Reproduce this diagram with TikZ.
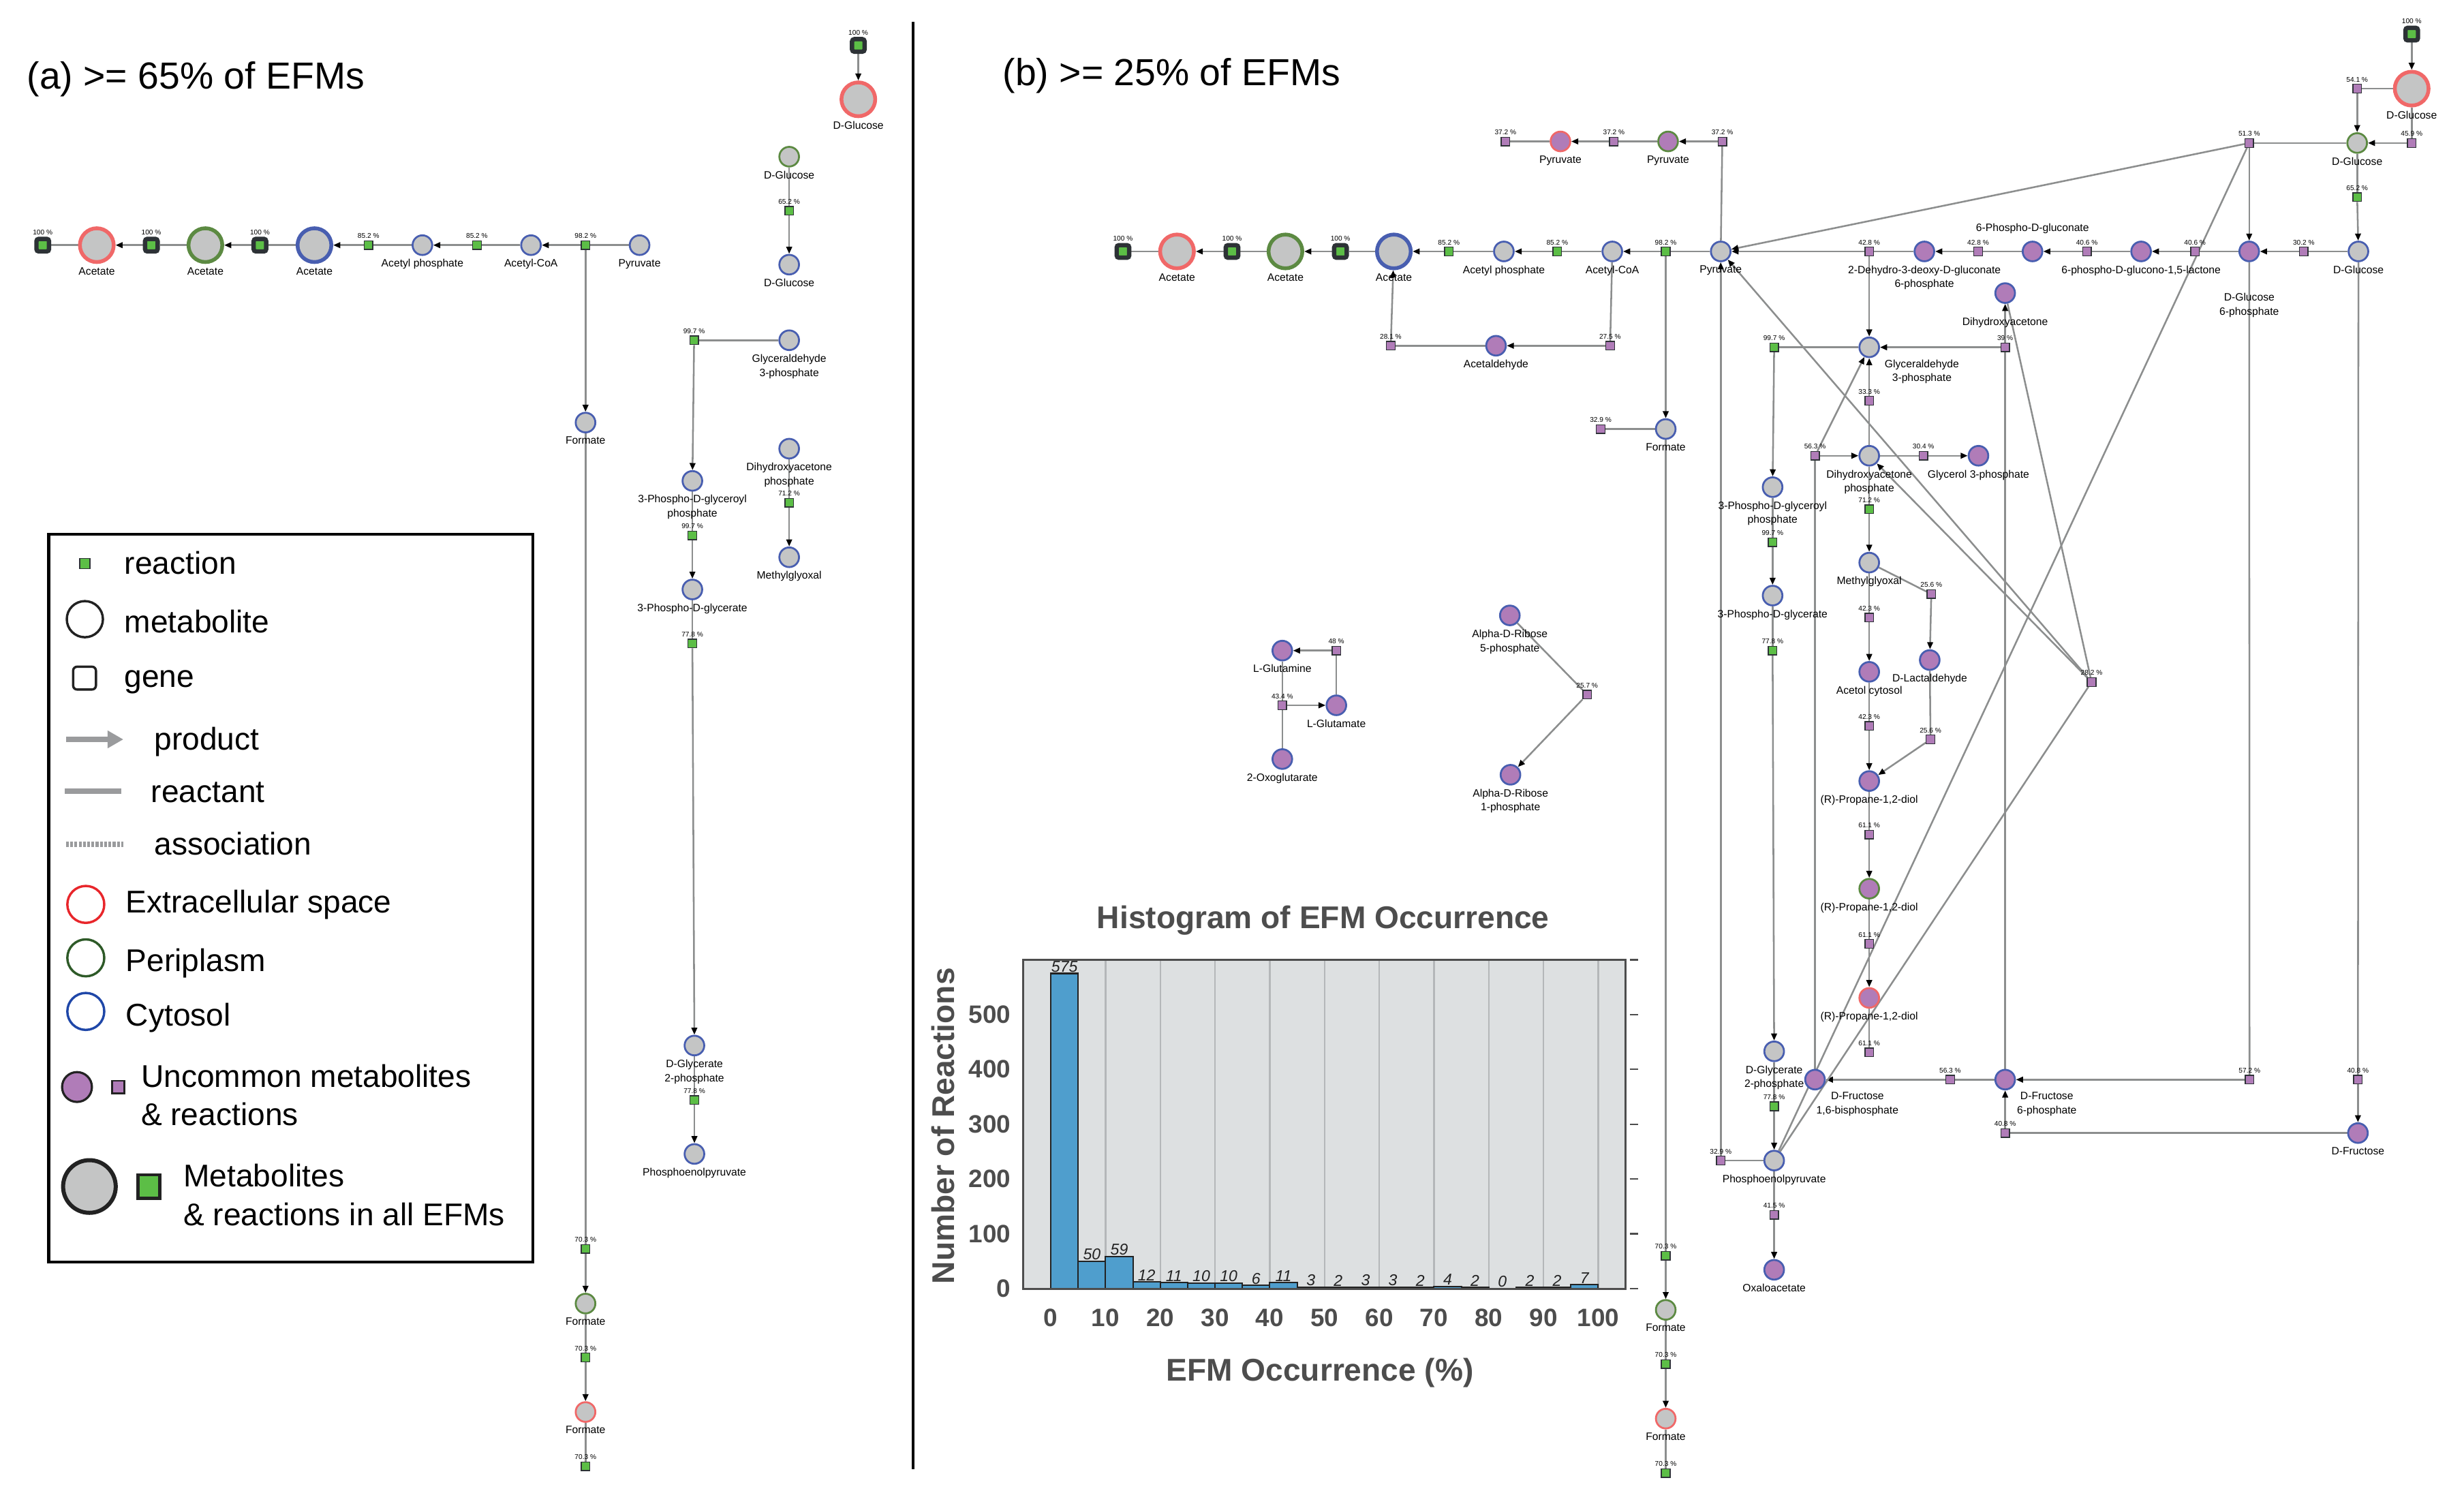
\documentclass[tikz,border=0pt]{standalone}
\usepackage{fontspec}
\setmainfont{Liberation Sans}
\usepackage{xcolor}
\usepackage{tikz}
\usetikzlibrary{arrows.meta,backgrounds}

\definecolor{metgray}{HTML}{C4C5C5}
\definecolor{rarepurple}{HTML}{B07CB8}
\definecolor{cytblue}{HTML}{485EB0}
\definecolor{perigreen}{HTML}{5C8A42}
\definecolor{extrared}{HTML}{F06868}
\definecolor{rxngreen}{HTML}{5CBE46}
\definecolor{rxndark}{HTML}{2D3236}
\definecolor{edgegray}{HTML}{8C8E8E}
\definecolor{legred}{HTML}{E8262B}
\definecolor{leggreen}{HTML}{2E5A28}
\definecolor{legblue}{HTML}{1F47A8}
\definecolor{leggray}{HTML}{9A9B9D}
\definecolor{legdark}{HTML}{222222}
\definecolor{barblue}{HTML}{4F9ECD}
\definecolor{plotbg}{HTML}{DDE0E1}
\definecolor{gridgray}{HTML}{B4B7B9}
\definecolor{axisgray}{HTML}{4D4D4D}

\begin{document}
\begin{tikzpicture}[
    x=1pt, y=-1pt,
    met/.style={circle, draw, fill=metgray, line width=1.2pt, minimum size=12.5pt, inner sep=0pt},
    bigmet/.style={met, line width=2.4pt, minimum size=21.5pt},
    cyto/.style={draw=cytblue},
    peri/.style={draw=perigreen},
    extra/.style={draw=extrared},
    rare/.style={fill=rarepurple},
    rxn/.style={rectangle, draw=rxndark, fill=rxngreen, line width=0.6pt, minimum size=5.5pt, inner sep=0pt},
    urxn/.style={rxn, fill=rarepurple},
    bigrxn/.style={rxn, rounded corners=1.5pt, line width=2.8pt, minimum size=8pt},
    lbl/.style={font=\fontsize{6.8}{9}\selectfont, align=center, inner sep=0.5pt, label distance=1.5pt},
    pct/.style={font=\fontsize{4.4}{5}\selectfont, inner sep=0.5pt, label distance=0.5pt},
    rl/.style={draw=edgegray, line width=1.1pt},
    prod/.style={rl, -{Triangle[length=4.5pt, width=3.6pt, color=black]}},
    legtxt/.style={anchor=base west, font=\fontsize{20}{24}\selectfont, inner sep=0pt},
    paneltitle/.style={anchor=base west, font=\fontsize{24}{27}\selectfont, inner sep=0pt},
    barbox/.style={draw=legdark, fill=barblue, line width=0.9pt},
    barlbl/.style={anchor=south, font=\fontsize{10}{12}\selectfont\itshape, text=legdark, inner sep=0.6pt},
    ticklbl/.style={font=\fontsize{16}{18}\selectfont\bfseries, text=axisgray},
    axislbl/.style={font=\fontsize{20}{24}\selectfont\bfseries, text=axisgray}
]
\useasboundingbox (0,0) rectangle (1568,958);

% Titles and divider
\node[paneltitle] (title-a) at (17,56.4) {(a) >= 65\% of EFMs};
\node[paneltitle] (title-b) at (638,54.5) {(b) >= 25\% of EFMs};
\draw[line width=2pt] (581,14) -- (581,935);

% Panel (a): acetate row
\node[bigrxn, label={[pct]above:100 \%}] (a-rex) at (27.2,156) {};
\node[bigmet, extra, label={[lbl]below:Acetate}] (a-ace-e) at (61.6,156) {};
\node[bigrxn, label={[pct]above:100 \%}] (a-rtp) at (96.3,156) {};
\node[bigmet, peri, label={[lbl]below:Acetate}] (a-ace-p) at (130.7,156) {};
\node[bigrxn, label={[pct]above:100 \%}] (a-rtc) at (165.4,156) {};
\node[bigmet, cyto, label={[lbl]below:Acetate}] (a-ace-c) at (200.1,156) {};
\node[rxn, label={[pct]above:85.2 \%}] (a-rack) at (234.5,156) {};
\node[met, cyto, label={[lbl]below:Acetyl phosphate}] (a-actp) at (268.8,156) {};
\node[rxn, label={[pct]above:85.2 \%}] (a-rpta) at (303.5,156) {};
\node[met, cyto, label={[lbl]below:Acetyl-CoA}] (a-accoa) at (337.9,156) {};
\node[rxn, label={[pct]above:98.2 \%}] (a-rpfl) at (372.6,156) {};
\node[met, cyto, label={[lbl]below:Pyruvate}] (a-pyr) at (407,156) {};

% Panel (a): formate column
\node[met, cyto, label={[lbl]below:Formate}] (a-for-c) at (372.6,268.9) {};
\node[rxn, label={[pct]above:70.3 \%}] (a-rfor1) at (372.6,794.7) {};
\node[met, peri, label={[lbl]below:Formate}] (a-for-p) at (372.6,829.5) {};
\node[rxn, label={[pct]above:70.3 \%}] (a-rfor2) at (372.6,863.8) {};
\node[met, extra, label={[lbl]below:Formate}] (a-for-e) at (372.6,898.5) {};
\node[rxn, label={[pct]above:70.3 \%}] (a-rfor3) at (372.6,933) {};

% Panel (a): glucose and glycolysis
\node[bigrxn, label={[pct]above:100 \%}] (a-rglcex) at (546.2,28.9) {};
\node[bigmet, extra, label={[lbl]below:D-Glucose}] (a-glc-e) at (546.2,63.2) {};
\node[met, peri, label={[lbl]below:D-Glucose}] (a-glc-p) at (502.2,99.7) {};
\node[rxn, label={[pct]above:65.2 \%}] (a-rglcpts) at (502.2,134.1) {};
\node[met, cyto, label={[lbl]below:D-Glucose}] (a-glc-c) at (502.2,168.4) {};
\node[met, cyto, label={[lbl]below:{Glyceraldehyde\\3-phosphate}}] (a-gap) at (502.2,216.5) {};
\node[rxn, label={[pct]above:99.7 \%}] (a-rgapd) at (441.7,216.5) {};
\node[met, cyto, label={[lbl]below:{3-Phospho-D-glyceroyl\\phosphate}}] (a-13dpg) at (440.6,306) {};
\node[rxn, label={[pct]above:99.7 \%}] (a-rpgk) at (440.6,340.7) {};
\node[met, cyto, label={[lbl]below:3-Phospho-D-glycerate}] (a-3pg) at (440.6,375.1) {};
\node[rxn, label={[pct]above:77.8 \%}] (a-rpgm) at (440.6,409.5) {};
\node[met, cyto, label={[lbl]below:{D-Glycerate\\2-phosphate}}] (a-2pg) at (441.9,665.3) {};
\node[rxn, label={[pct]above:77.8 \%}] (a-reno) at (441.9,700) {};
\node[met, cyto, label={[lbl]below:Phosphoenolpyruvate}] (a-pep) at (441.9,734.3) {};
\node[met, cyto, label={[lbl]below:{Dihydroxyacetone\\phosphate}}] (a-dhap) at (502.2,285.5) {};
\node[rxn, label={[pct]above:71.2 \%}] (a-rmgs) at (502.2,319.9) {};
\node[met, cyto, label={[lbl]below:Methylglyoxal}] (a-mthgxl) at (502.2,354.6) {};

% Legend
\draw[line width=1.8pt] (31,340) rectangle (339,803);
\node[rxn, minimum size=6.5pt] (leg-rxn) at (54,358.5) {};
\node[legtxt] (leg-rxn-t) at (79,365.5) {reaction};
\node[circle, draw=legdark, line width=1.5pt, minimum size=23pt] (leg-met) at (54,394) {};
\node[legtxt] (leg-met-t) at (79,402.6) {metabolite};
\node[rectangle, rounded corners=2.5pt, draw=legdark, line width=1.5pt, minimum size=14.5pt] (leg-gene) at (53.8,431.5) {};
\node[legtxt] (leg-gene-t) at (79,437.5) {gene};
\coordinate (leg-p1) at (42,470.5);
\coordinate (leg-p2) at (78.5,470.5);
\draw[leggray, line width=3.5pt, -{Triangle[length=10pt, width=10.6pt]}] (leg-p1) -- (leg-p2);
\node[legtxt] (leg-prod-t) at (98,477.2) {product};
\coordinate (leg-r1) at (41.4,503.6);
\coordinate (leg-r2) at (77.4,503.6);
\draw[leggray, line width=3.5pt] (leg-r1) -- (leg-r2);
\node[legtxt] (leg-reac-t) at (96,510.6) {reactant};
\coordinate (leg-a1) at (42,537.3);
\coordinate (leg-a2) at (78.5,537.3);
\draw[leggray, line width=3.5pt, dash pattern=on 1.8pt off 0.9pt] (leg-a1) -- (leg-a2);
\node[legtxt] (leg-asso-t) at (98,544.1) {association};
\node[circle, draw=legred, line width=1.5pt, minimum size=23.5pt] (leg-ex) at (54.6,575.5) {};
\node[legtxt] (leg-ex-t) at (80,580.7) {Extracellular space};
\node[circle, draw=leggreen, line width=1.5pt, minimum size=23.5pt] (leg-pe) at (54.6,609.5) {};
\node[legtxt] (leg-pe-t) at (80,618.1) {Periplasm};
\node[circle, draw=legblue, line width=1.5pt, minimum size=23.5pt] (leg-cy) at (54.6,643.6) {};
\node[legtxt] (leg-cy-t) at (80,652.8) {Cytosol};
\node[circle, draw=legdark, fill=rarepurple, line width=1.4pt, minimum size=19pt] (leg-rmet) at (49,691.7) {};
\node[rectangle, draw=legdark, fill=rarepurple, line width=1.2pt, minimum size=8pt] (leg-rrxn) at (75.2,691.7) {};
\node[legtxt] (leg-rare-t1) at (89.6,691.7) {Uncommon metabolites};
\node[legtxt] (leg-rare-t2) at (89.6,716) {\& reactions};
\node[circle, draw=legdark, fill=metgray, line width=2.6pt, minimum size=33.5pt] (leg-cmet) at (56.9,755) {};
\node[rectangle, draw=legdark, fill=rxngreen, line width=2pt, minimum width=14pt, minimum height=15pt] (leg-crxn) at (94.7,755) {};
\node[legtxt] (leg-core-t1) at (116.6,755) {Metabolites};
\node[legtxt] (leg-core-t2) at (116.6,780) {\& reactions in all EFMs};

% Panel (b): acetate row
\node[bigrxn, label={[pct]above:100 \%}] (b-rex) at (714.6,160) {};
\node[bigmet, extra, label={[lbl]below:Acetate}] (b-ace-e) at (749,160) {};
\node[bigrxn, label={[pct]above:100 \%}] (b-rtp) at (784,160) {};
\node[bigmet, peri, label={[lbl]below:Acetate}] (b-ace-p) at (818,160) {};
\node[bigrxn, label={[pct]above:100 \%}] (b-rtc) at (853,160) {};
\node[bigmet, cyto, label={[lbl]below:Acetate}] (b-ace-c) at (887,160) {};
\node[rxn, label={[pct]above:85.2 \%}] (b-rack) at (922,160) {};
\node[met, cyto, label={[lbl]below:Acetyl phosphate}] (b-actp) at (957,160) {};
\node[rxn, label={[pct]above:85.2 \%}] (b-rpta) at (991,160) {};
\node[met, cyto, label={[lbl]below:Acetyl-CoA}] (b-accoa) at (1026,160) {};
\node[rxn, label={[pct]above:98.2 \%}] (b-rpfl) at (1060,160) {};
\node[met, cyto, label={[lbl]below:Pyruvate}] (b-pyr) at (1095,160) {};

% Panel (b): Entner-Doudoroff row
\node[urxn, label={[pct]above:42.8 \%}] (b-redd) at (1189.5,160) {};
\node[met, cyto, rare, label={[lbl]below:{2-Dehydro-3-deoxy-D-gluconate\\6-phosphate}}] (b-kdpg) at (1224.6,160) {};
\node[urxn, label={[pct]above:42.8 \%}] (b-regd) at (1258.8,160) {};
\node[met, cyto, rare, label={[lbl, label distance=4pt]above:6-Phospho-D-gluconate}] (b-6pg) at (1293.4,160) {};
\node[urxn, label={[pct]above:40.6 \%}] (b-rpgl) at (1328,160) {};
\node[met, cyto, rare, label={[lbl]below:{6-phospho-D-glucono-1,5-lactone}}] (b-6pgl) at (1362.5,160) {};
\node[urxn, label={[pct]above:40.6 \%}] (b-rg6pdh) at (1396.8,160) {};
\node[met, cyto, rare, label={[lbl, label distance=19pt]below:{D-Glucose\\6-phosphate}}] (b-g6p) at (1431.3,160) {};
\node[urxn, label={[pct]above:30.2 \%}] (b-rhex) at (1466,160) {};
\node[met, cyto, label={[lbl]below:D-Glucose}] (b-glc-c) at (1500.8,160) {};

% Panel (b): glucose uptake
\node[bigrxn, label={[pct]above:100 \%}] (b-rglcex) at (1534.7,21.7) {};
\node[bigmet, extra, label={[lbl]below:D-Glucose}] (b-glc-e) at (1534.7,56.4) {};
\node[urxn, label={[pct]above:54.1 \%}] (b-rglct1) at (1500,56.4) {};
\node[urxn, label={[pct]above:45.9 \%}] (b-rglct2) at (1534.7,91) {};
\node[met, peri, label={[lbl]below:D-Glucose}] (b-glc-p) at (1500,91) {};
\node[urxn, label={[pct]above:51.3 \%}] (b-rpts) at (1431.3,91) {};
\node[rxn, label={[pct]above:65.2 \%}] (b-rglcpts) at (1500,125.5) {};

% Panel (b): pyruvate export
\node[urxn, label={[pct]above:37.2 \%}] (b-rpyrex) at (958,90) {};
\node[met, extra, rare, label={[lbl]below:Pyruvate}] (b-pyr-e) at (993,90) {};
\node[urxn, label={[pct]above:37.2 \%}] (b-rpyrt1) at (1027,90) {};
\node[met, peri, rare, label={[lbl]below:Pyruvate}] (b-pyr-p) at (1061.5,90) {};
\node[urxn, label={[pct]above:37.2 \%}] (b-rpyrt2) at (1096,90) {};

% Panel (b): acetaldehyde and formate
\node[urxn, label={[pct]above:28.1 \%}] (b-racald) at (885,220) {};
\node[met, cyto, rare, label={[lbl]below:Acetaldehyde}] (b-acald) at (952,220) {};
\node[urxn, label={[pct]above:27.5 \%}] (b-radhe) at (1024.6,220) {};
\node[met, cyto, label={[lbl]below:Formate}] (b-for-c) at (1060,273) {};
\node[urxn, label={[pct]above:32.9 \%}] (b-rfdh) at (1018.6,273) {};
\node[rxn, label={[pct]above:70.3 \%}] (b-rfor1) at (1060,799) {};
\node[met, peri, label={[lbl]below:Formate}] (b-for-p) at (1060,833.5) {};
\node[rxn, label={[pct]above:70.3 \%}] (b-rfor2) at (1060,868) {};
\node[met, extra, label={[lbl]below:Formate}] (b-for-e) at (1060,902.7) {};
\node[rxn, label={[pct]above:70.3 \%}] (b-rfor3) at (1060,937.4) {};

% Panel (b): glycolysis
\node[rxn, label={[pct]above:99.7 \%}] (b-rgapd) at (1129,221) {};
\node[met, cyto] (b-gap) at (1189.5,221) {};
\node[lbl] (b-gap-lbl) at (1223,236.5) {Glyceraldehyde\\3-phosphate};
\node[urxn, label={[pct]above:39 \%}] (b-rf6pa) at (1276,221) {};
\node[met, cyto, rare, label={[lbl, label distance=8pt]below:Dihydroxyacetone}] (b-dha) at (1276,186.5) {};
\node[urxn, label={[pct]above:33.3 \%}] (b-rtpi) at (1189.5,255) {};
\node[urxn, label={[pct]above:56.3 \%}] (b-rfba) at (1155,290) {};
\node[met, cyto, label={[lbl]below:{Dihydroxyacetone\\phosphate}}] (b-dhap) at (1189.5,290) {};
\node[urxn, label={[pct]above:30.4 \%}] (b-rg3pd) at (1224,290) {};
\node[met, cyto, rare, label={[lbl]below:Glycerol 3-phosphate}] (b-glyc3p) at (1259,290) {};
\node[rxn, label={[pct]above:71.2 \%}] (b-rmgs) at (1189.5,324) {};
\node[met, cyto, label={[lbl]below:Methylglyoxal}] (b-mthgxl) at (1189.5,358) {};
\node[urxn, label={[pct]above:25.6 \%}] (b-rlald) at (1229,378) {};
\node[urxn, label={[pct]above:42.3 \%}] (b-rmgsa) at (1189.5,393) {};
\node[met, cyto, rare, label={[lbl]below:D-Lactaldehyde}] (b-lald) at (1228,420) {};
\node[met, cyto, rare, label={[lbl]below:Acetol cytosol}] (b-acetol) at (1189.5,427.5) {};
\node[urxn, label={[pct]above:42.3 \%}] (b-racto) at (1189.5,462) {};
\node[urxn, label={[pct]above:25.6 \%}] (b-rlald2) at (1228.5,470.5) {};
\node[met, cyto, rare, label={[lbl]below:{(R)-Propane-1,2-diol}}] (b-ppd-c) at (1189.5,497) {};
\node[urxn, label={[pct]above:61.1 \%}] (b-rppdt1) at (1189.5,531) {};
\node[met, peri, rare, label={[lbl]below:{(R)-Propane-1,2-diol}}] (b-ppd-p) at (1189.5,565.5) {};
\node[urxn, label={[pct]above:61.1 \%}] (b-rppdt2) at (1189.5,600.6) {};
\node[met, extra, rare, label={[lbl]below:{(R)-Propane-1,2-diol}}] (b-ppd-e) at (1189.5,635) {};
\node[urxn, label={[pct]above:61.1 \%}] (b-rppdex) at (1189.5,669.6) {};
\node[urxn, label={[pct]above:28.2 \%}] (b-rdhapt) at (1331,434) {};
\node[met, cyto, label={[lbl]below:{3-Phospho-D-glyceroyl\\phosphate}}] (b-13dpg) at (1128,310) {};
\node[rxn, label={[pct]above:99.7 \%}] (b-rpgk) at (1128,345) {};
\node[met, cyto, label={[lbl]below:3-Phospho-D-glycerate}] (b-3pg) at (1128,379) {};
\node[rxn, label={[pct]above:77.8 \%}] (b-rpgm) at (1128,414) {};
\node[met, cyto, label={[lbl]below:{D-Glycerate\\2-phosphate}}] (b-2pg) at (1129,669) {};
\node[rxn, label={[pct]above:77.8 \%}] (b-reno) at (1129,704) {};
\node[met, cyto, label={[lbl]below:Phosphoenolpyruvate}] (b-pep) at (1129,738.5) {};
\node[urxn, label={[pct]above:32.9 \%}] (b-rpyk) at (1095,738.5) {};
\node[urxn, label={[pct]above:41.5 \%}] (b-rppc) at (1129,773) {};
\node[met, cyto, rare, label={[lbl]below:Oxaloacetate}] (b-oaa) at (1129,808) {};
\node[met, cyto, rare] (b-fdp) at (1155,687) {};
\node[lbl] (b-fdp-lbl) at (1182,702.7) {D-Fructose\\1,6-bisphosphate};
\node[urxn, label={[pct]above:56.3 \%}] (b-rpfk) at (1241,687) {};
\node[met, cyto, rare] (b-f6p) at (1276,687) {};
\node[lbl] (b-f6p-lbl) at (1302.5,702.7) {D-Fructose\\6-phosphate};
\node[urxn, label={[pct]above:57.2 \%}] (b-rpgi) at (1431.5,687) {};
\node[urxn, label={[pct]above:40.8 \%}] (b-rfrupts) at (1276,721) {};
\node[urxn, label={[pct]above:40.8 \%}] (b-rfru) at (1500.5,687) {};
\node[met, cyto, rare, label={[lbl]below:D-Fructose}] (b-fru) at (1500.5,721) {};

% Panel (b): glutamate and ribose
\node[urxn, label={[pct]above:48 \%}] (b-rgln) at (850.4,414) {};
\node[met, cyto, rare, label={[lbl]below:L-Glutamine}] (b-gln) at (816,414) {};
\node[met, cyto, rare, label={[lbl]below:L-Glutamate}] (b-glu) at (850.4,448.8) {};
\node[urxn, label={[pct]above:43.4 \%}] (b-rglu) at (816,448.8) {};
\node[met, cyto, rare, label={[lbl]below:2-Oxoglutarate}] (b-akg) at (816,483) {};
\node[met, cyto, rare, label={[lbl]below:{Alpha-D-Ribose\\5-phosphate}}] (b-r5p) at (960.8,391.6) {};
\node[urxn, label={[pct]above:25.7 \%}] (b-rppm) at (1010,442) {};
\node[met, cyto, rare, label={[lbl]below:{Alpha-D-Ribose\\1-phosphate}}] (b-r1p) at (961.2,493) {};

\begin{scope}[on background layer]
% Panel (a) connections
\draw[rl] (a-rex) -- (a-ace-e);
\draw[rl] (a-ace-p) -- (a-rtp);
\draw[prod] (a-rtp) -- (a-ace-e);
\draw[rl] (a-ace-c) -- (a-rtc);
\draw[prod] (a-rtc) -- (a-ace-p);
\draw[rl] (a-actp) -- (a-rack);
\draw[prod] (a-rack) -- (a-ace-c);
\draw[rl] (a-accoa) -- (a-rpta);
\draw[prod] (a-rpta) -- (a-actp);
\draw[rl] (a-pyr) -- (a-rpfl);
\draw[prod] (a-rpfl) -- (a-accoa);
\draw[prod] (a-rpfl) -- (a-for-c);
\draw[rl] (a-for-c) -- (a-rfor1);
\draw[prod] (a-rfor1) -- (a-for-p);
\draw[rl] (a-for-p) -- (a-rfor2);
\draw[prod] (a-rfor2) -- (a-for-e);
\draw[rl] (a-for-e) -- (a-rfor3);
\draw[prod] (a-rglcex) -- (a-glc-e);
\draw[rl] (a-glc-p) -- (a-rglcpts);
\draw[prod] (a-rglcpts) -- (a-glc-c);
\draw[rl] (a-gap) -- (a-rgapd);
\draw[prod] (a-rgapd) -- (a-13dpg);
\draw[rl] (a-13dpg) -- (a-rpgk);
\draw[prod] (a-rpgk) -- (a-3pg);
\draw[rl] (a-3pg) -- (a-rpgm);
\draw[prod] (a-rpgm) -- (a-2pg);
\draw[rl] (a-2pg) -- (a-reno);
\draw[prod] (a-reno) -- (a-pep);
\draw[rl] (a-dhap) -- (a-rmgs);
\draw[prod] (a-rmgs) -- (a-mthgxl);

% Panel (b) connections: acetate row
\draw[rl] (b-rex) -- (b-ace-e);
\draw[rl] (b-ace-p) -- (b-rtp);
\draw[prod] (b-rtp) -- (b-ace-e);
\draw[rl] (b-ace-c) -- (b-rtc);
\draw[prod] (b-rtc) -- (b-ace-p);
\draw[rl] (b-actp) -- (b-rack);
\draw[prod] (b-rack) -- (b-ace-c);
\draw[rl] (b-accoa) -- (b-rpta);
\draw[prod] (b-rpta) -- (b-actp);
\draw[rl] (b-pyr) -- (b-rpfl);
\draw[prod] (b-rpfl) -- (b-accoa);
\draw[prod] (b-rpfl) -- (b-for-c);
\draw[rl] (b-accoa) -- (b-radhe);
\draw[prod] (b-radhe) -- (b-acald);
\draw[rl] (b-acald) -- (b-racald);
\draw[prod] (b-racald) -- (b-ace-c);
\draw[rl] (b-for-c) -- (b-rfdh);
\draw[rl] (b-for-c) -- (b-rfor1);
\draw[prod] (b-rfor1) -- (b-for-p);
\draw[rl] (b-for-p) -- (b-rfor2);
\draw[prod] (b-rfor2) -- (b-for-e);
\draw[rl] (b-for-e) -- (b-rfor3);

% Panel (b) connections: pyruvate export
\draw[rl] (b-rpyrex) -- (b-pyr-e);
\draw[prod] (b-rpyrt1) -- (b-pyr-e);
\draw[rl] (b-pyr-p) -- (b-rpyrt1);
\draw[prod] (b-rpyrt2) -- (b-pyr-p);
\draw[rl] (b-pyr) -- (b-rpyrt2);

% Panel (b) connections: glucose
\draw[prod] (b-rglcex) -- (b-glc-e);
\draw[rl] (b-glc-e) -- (b-rglct1);
\draw[prod] (b-rglct1) -- (b-glc-p);
\draw[rl] (b-glc-e) -- (b-rglct2);
\draw[prod] (b-rglct2) -- (b-glc-p);
\draw[rl] (b-glc-p) -- (b-rpts);
\draw[prod] (b-rpts) -- (b-pyr);
\draw[prod] (b-rpts) -- (b-g6p);
\draw[rl] (b-pep) -- (b-rpts);
\draw[rl] (b-glc-p) -- (b-rglcpts);
\draw[prod] (b-rglcpts) -- (b-glc-c);
\draw[rl] (b-glc-c) -- (b-rhex);
\draw[prod] (b-rhex) -- (b-g6p);
\draw[rl] (b-g6p) -- (b-rg6pdh);
\draw[prod] (b-rg6pdh) -- (b-6pgl);
\draw[rl] (b-6pgl) -- (b-rpgl);
\draw[prod] (b-rpgl) -- (b-6pg);
\draw[rl] (b-6pg) -- (b-regd);
\draw[prod] (b-regd) -- (b-kdpg);
\draw[rl] (b-kdpg) -- (b-redd);
\draw[prod] (b-redd) -- (b-pyr);
\draw[prod] (b-redd) -- (b-gap);
\draw[rl] (b-g6p) -- (b-rpgi);
\draw[prod] (b-rpgi) -- (b-f6p);
\draw[rl] (b-glc-c) -- (b-rfru);
\draw[prod] (b-rfru) -- (b-fru);
\draw[rl] (b-fru) -- (b-rfrupts);
\draw[prod] (b-rfrupts) -- (b-f6p);
\draw[rl] (b-f6p) -- (b-rpfk);
\draw[prod] (b-rpfk) -- (b-fdp);

% Panel (b) connections: trioses
\draw[rl] (b-f6p) -- (b-rf6pa);
\draw[prod] (b-rf6pa) -- (b-gap);
\draw[prod] (b-rf6pa) -- (b-dha);
\draw[rl] (b-fdp) -- (b-rfba);
\draw[prod] (b-rfba) -- (b-dhap);
\draw[prod] (b-rfba) -- (b-gap);
\draw[rl] (b-dhap) -- (b-rtpi);
\draw[prod] (b-rtpi) -- (b-gap);
\draw[rl] (b-dhap) -- (b-rg3pd);
\draw[prod] (b-rg3pd) -- (b-glyc3p);
\draw[rl] (b-dha) -- (b-rdhapt);
\draw[rl] (b-pep) -- (b-rdhapt);
\draw[prod] (b-rdhapt) -- (b-pyr);
\draw[prod] (b-rdhapt) -- (b-dhap);

% Panel (b) connections: methylglyoxal branch
\draw[rl] (b-dhap) -- (b-rmgs);
\draw[prod] (b-rmgs) -- (b-mthgxl);
\draw[rl] (b-mthgxl) -- (b-rmgsa);
\draw[prod] (b-rmgsa) -- (b-acetol);
\draw[rl] (b-mthgxl) -- (b-rlald);
\draw[prod] (b-rlald) -- (b-lald);
\draw[rl] (b-acetol) -- (b-racto);
\draw[prod] (b-racto) -- (b-ppd-c);
\draw[rl] (b-lald) -- (b-rlald2);
\draw[prod] (b-rlald2) -- (b-ppd-c);
\draw[rl] (b-ppd-c) -- (b-rppdt1);
\draw[prod] (b-rppdt1) -- (b-ppd-p);
\draw[rl] (b-ppd-p) -- (b-rppdt2);
\draw[prod] (b-rppdt2) -- (b-ppd-e);
\draw[rl] (b-ppd-e) -- (b-rppdex);

% Panel (b) connections: lower glycolysis
\draw[rl] (b-gap) -- (b-rgapd);
\draw[prod] (b-rgapd) -- (b-13dpg);
\draw[rl] (b-13dpg) -- (b-rpgk);
\draw[prod] (b-rpgk) -- (b-3pg);
\draw[rl] (b-3pg) -- (b-rpgm);
\draw[prod] (b-rpgm) -- (b-2pg);
\draw[rl] (b-2pg) -- (b-reno);
\draw[prod] (b-reno) -- (b-pep);
\draw[rl] (b-pep) -- (b-rpyk);
\draw[prod] (b-rpyk) -- (b-pyr);
\draw[rl] (b-pep) -- (b-rppc);
\draw[prod] (b-rppc) -- (b-oaa);

% Panel (b) connections: small islands
\draw[rl] (b-glu) -- (b-rgln);
\draw[prod] (b-rgln) -- (b-gln);
\draw[rl] (b-gln) -- (b-rglu);
\draw[rl] (b-akg) -- (b-rglu);
\draw[prod] (b-rglu) -- (b-glu);
\draw[rl] (b-r5p) -- (b-rppm);
\draw[prod] (b-rppm) -- (b-r1p);
\end{scope}

% Histogram
\node[axislbl] (hist-title) at (842,585.8) {Histogram of EFM Occurrence};
\node[axislbl, rotate=90] (hist-ylab) at (600,716.4) {Number of Reactions};
\node[axislbl] (hist-xlab) at (840,873.4) {EFM Occurrence (\%)};
\begin{scope}[xshift=668.7pt, yshift=-820pt, x=3.483pt, y=0.3488pt]
\fill[plotbg] (-5,0) rectangle (105,600);
\foreach \g in {10,20,...,100}
  \draw[gridgray, line width=1pt] (\g,0) -- (\g,600);
\foreach \v [count=\i from 0] in {575,50,59,12,11,10,10,6,11,3,2,3,3,2,4,2,0,2,2,7} {
  \draw[barbox] (5*\i,0) rectangle (5*\i+5,\v);
  \node[barlbl] (bar\i) at (5*\i+2.5,\v) {\v};
}
\draw[axisgray, line width=1.3pt] (-5,0) rectangle (105,600);
\foreach \t in {0,100,...,600}
  \draw[axisgray, line width=1pt] (105.8,\t) -- (107.3,\t);
\foreach \t in {0,100,...,500}
  \node[ticklbl, anchor=east] (ytick\t) at (-6.3,\t) {\t};
\foreach \t in {0,10,...,100}
  \node[ticklbl] (xtick\t) at (\t,-53.6) {\t};
\end{scope}

\end{tikzpicture}
\end{document}
